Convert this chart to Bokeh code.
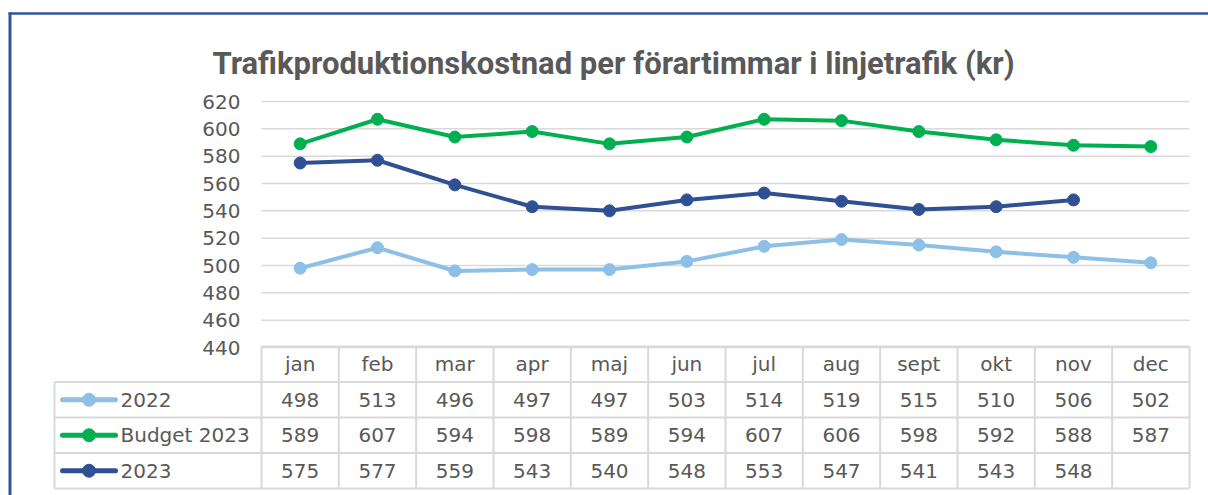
from bokeh.plotting import figure
from bokeh.models import Range1d
from bokeh.core.properties import value
from bokeh.embed import file_html
from bokeh.resources import INLINE

# ---------------- data ----------------
months = ["jan", "feb", "mar", "apr", "maj", "jun", "jul", "aug", "sept", "okt", "nov", "dec"]
series_names = ["2022", "Budget 2023", "2023"]
v2022 = [498, 513, 496, 497, 497, 503, 514, 519, 515, 510, 506, 502]
vbudget = [589, 607, 594, 598, 589, 594, 607, 606, 598, 592, 588, 587]
v2023 = [575, 577, 559, 543, 540, 548, 553, 547, 541, 543, 548, None]
yticks = [440, 460, 480, 500, 520, 540, 560, 580, 600, 620]
title_text = "Trafikproduktionskostnad per förartimmar i linjetrafik (kr)"

series_values = [v2022, vbudget, v2023]
colors = ["#8DC0E7", "#00B050", "#2F5092"]
GRID = "#D9D9D9"
TXT = "#595959"
BORDER = "#2F5597"

# ---------------- layout (pixels) ----------------
W, H = 1208, 495
COL = 77.333          # px per month column
X0 = 261              # px where first month column starts
YTOP = 101            # px of top tick
PXV = 1.36667         # px per value unit
ROW = 35.5            # table row height
TTOP = 346            # table top px
LEG_LEFT = 54         # legend column left px

x_start = -X0 / COL
x_end = x_start + W / COL
y_end = yticks[-1] + YTOP / PXV
y_start = y_end - H / PXV


def dx(px):
    return x_start + px / COL


def dy(py):
    return y_end - py / PXV


p = figure(width=W, height=H, x_range=Range1d(x_start, x_end), y_range=Range1d(y_start, y_end),
           output_backend="svg", toolbar_location=None, min_border=0,
           x_axis_location=None, y_axis_location=None, outline_line_color=None)
p.extra_y_ranges = {"tbl": Range1d(start=(H - TTOP) / ROW, end=-TTOP / ROW)}
p.xgrid.visible = False
p.ygrid.visible = False
p.background_fill_color = "white"
p.border_fill_color = "white"

n = len(months)
xs = [i + 0.5 for i in range(n)]

# chart border (blue)
p.segment(x0=[dx(8)], x1=[x_end], y0=[dy(13)], y1=[dy(13)], line_color=BORDER, line_width=2.5)
p.segment(x0=[dx(9.5)], x1=[dx(9.5)], y0=[y_start], y1=[dy(12)], line_color=BORDER, line_width=3)

# title
p.text(x=[dx(613)], y=[dy(63)], text=[title_text], text_font=value("Roboto"), text_font_style="bold",
       text_font_size="31px", text_color=TXT, text_align="center", text_baseline="alphabetic")

# gridlines and y labels
p.segment(x0=[0] * len(yticks), x1=[n] * len(yticks), y0=yticks, y1=yticks, line_color=GRID, line_width=1.5)
p.text(x=[dx(240)] * len(yticks), y=yticks, text=[str(t) for t in yticks], text_font=value("DejaVu Sans"),
       text_font_size="20px", text_color=TXT, text_align="right", text_baseline="middle")

# series lines
for vals, col in zip(series_values, colors):
    yv = [float("nan") if v is None else v for v in vals]
    p.line(xs, yv, line_color=col, line_width=4, line_join="round", line_cap="round")
    px_ = [x for x, v in zip(xs, vals) if v is not None]
    py_ = [v for v in vals if v is not None]
    p.scatter(px_, py_, size=12, fill_color=col, line_color=col)

# ---------------- data table ----------------
leg = dx(LEG_LEFT)
nrows = len(series_names) + 1
p.segment(x0=[0], x1=[n], y0=[0], y1=[0], line_color=GRID, line_width=2, y_range_name="tbl")
p.segment(x0=[leg] * nrows, x1=[n] * nrows, y0=list(range(1, nrows + 1)), y1=list(range(1, nrows + 1)),
          line_color=GRID, line_width=2, y_range_name="tbl")
p.segment(x0=list(range(n + 1)), x1=list(range(n + 1)), y0=[0] * (n + 1), y1=[nrows] * (n + 1),
          line_color=GRID, line_width=2, y_range_name="tbl")
p.segment(x0=[leg], x1=[leg], y0=[1], y1=[nrows], line_color=GRID, line_width=2, y_range_name="tbl")

p.text(x=xs, y=[0.5] * n, text=months, text_font=value("DejaVu Sans"), text_font_size="20px",
       text_color=TXT, text_align="center", text_baseline="middle", y_range_name="tbl")

for r, (name, vals, col) in enumerate(zip(series_names, series_values, colors), start=1):
    yc = r + 0.5
    p.text(x=[x for x, v in zip(xs, vals) if v is not None], y=[yc] * sum(v is not None for v in vals),
           text=[str(v) for v in vals if v is not None], text_font=value("DejaVu Sans"),
           text_font_size="20px", text_color=TXT, text_align="center", text_baseline="middle",
           y_range_name="tbl")
    p.segment(x0=[dx(62)], x1=[dx(115)], y0=[yc], y1=[yc], line_color=col, line_width=5,
              line_cap="round", y_range_name="tbl")
    p.scatter([dx(88.5)], [yc], size=13, fill_color=col, line_color=col, y_range_name="tbl")
    p.text(x=[dx(120)], y=[yc], text=[name], text_font=value("DejaVu Sans"), text_font_size="20px",
           text_color=TXT, text_align="left", text_baseline="middle", y_range_name="tbl")

open("out.html", "w").write(file_html(p, INLINE))
